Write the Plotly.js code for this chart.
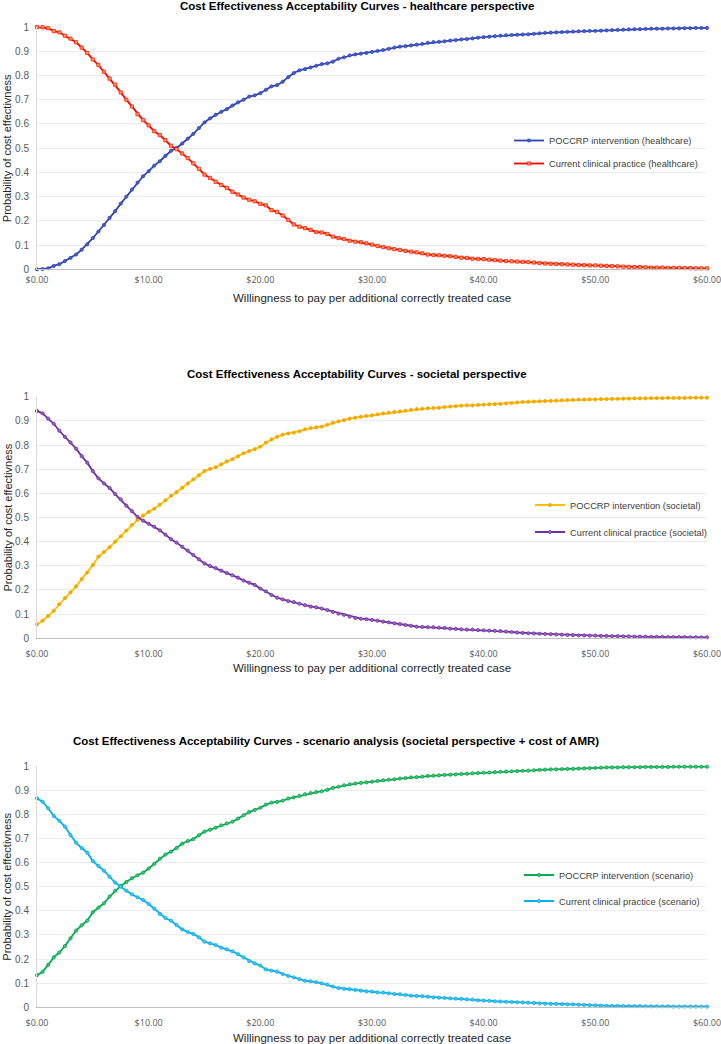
<!DOCTYPE html>
<html>
<head>
<meta charset="utf-8">
<script src="https://cdn.plot.ly/plotly-3.0.1.min.js"></script>
<style>html,body{margin:0;padding:0;background:#fff;}#chart{width:721px;height:1044px;}</style>
</head>
<body>
<div id="chart"></div>
<script>
// Willingness to pay ($ per additional correctly treated case)
const wtp = [0,0.5,1,1.5,2,2.5,3,3.5,4,4.5,5,5.5,6,6.5,7,7.5,8,8.5,9,9.5,10,10.5,11,11.5,12,12.5,13,13.5,14,14.5,15,15.5,16,16.5,17,17.5,18,18.5,19,19.5,20,
20.5,21,21.5,22,22.5,23,23.5,24,24.5,25,25.5,26,26.5,27,27.5,28,28.5,29,29.5,30,30.5,31,31.5,32,32.5,33,33.5,34,34.5,35,35.5,36,36.5,37,37.5,38,38.5,39,39.5,
40,40.5,41,41.5,42,42.5,43,43.5,44,44.5,45,45.5,46,46.5,47,47.5,48,48.5,49,49.5,50,50.5,51,51.5,52,52.5,53,53.5,54,54.5,55,55.5,56,56.5,57,57.5,58,58.5,59,59.5,60];

// Healthcare perspective
const hcIntervention = [0.000,0.001,0.004,0.014,0.021,0.034,0.047,0.061,0.081,0.103,0.129,0.156,0.183,0.212,0.240,0.271,0.300,0.329,0.358,0.384,0.405,0.428,0.446,0.468,0.489,0.501,0.519,0.539,0.559,0.583,0.606,0.623,0.638,0.650,0.661,0.676,0.689,0.700,0.713,0.718,0.727,
0.741,0.755,0.760,0.774,0.793,0.810,0.821,0.826,0.833,0.840,0.847,0.850,0.857,0.869,0.875,0.883,0.887,0.890,0.893,0.897,0.901,0.905,0.910,0.915,0.919,0.921,0.924,0.927,0.930,0.935,0.938,0.939,0.941,0.944,0.946,0.949,0.950,0.953,0.956,
0.958,0.960,0.962,0.964,0.966,0.967,0.968,0.969,0.970,0.972,0.974,0.976,0.977,0.978,0.979,0.980,0.981,0.982,0.983,0.984,0.984,0.985,0.986,0.987,0.988,0.989,0.990,0.991,0.991,0.992,0.993,0.993,0.993,0.994,0.994,0.994,0.995,0.995,0.996,0.996,0.996];
const hcCurrent = [1.000,0.999,0.995,0.983,0.978,0.964,0.952,0.937,0.915,0.893,0.866,0.843,0.815,0.787,0.762,0.730,0.700,0.672,0.640,0.616,0.594,0.570,0.554,0.533,0.510,0.496,0.478,0.459,0.437,0.415,0.391,0.377,0.361,0.348,0.336,0.320,0.309,0.296,0.287,0.281,0.270,
0.264,0.244,0.237,0.222,0.204,0.185,0.176,0.170,0.163,0.154,0.152,0.146,0.135,0.129,0.125,0.118,0.114,0.112,0.107,0.102,0.096,0.092,0.087,0.083,0.080,0.076,0.073,0.070,0.066,0.061,0.059,0.058,0.056,0.054,0.051,0.048,0.047,0.044,0.043,
0.042,0.040,0.038,0.036,0.034,0.033,0.032,0.031,0.030,0.028,0.026,0.024,0.023,0.022,0.021,0.020,0.019,0.018,0.017,0.016,0.016,0.015,0.014,0.013,0.012,0.011,0.010,0.009,0.009,0.008,0.007,0.007,0.007,0.006,0.006,0.006,0.005,0.005,0.004,0.004,0.004];

// Societal perspective
const socIntervention = [0.058,0.073,0.092,0.114,0.141,0.166,0.190,0.215,0.245,0.272,0.303,0.338,0.357,0.377,0.400,0.422,0.446,0.469,0.490,0.508,0.523,0.536,0.553,0.571,0.590,0.605,0.623,0.641,0.658,0.675,0.692,0.701,0.708,0.720,0.732,0.741,0.753,0.766,0.775,0.783,0.793,
0.810,0.823,0.834,0.843,0.848,0.851,0.857,0.865,0.870,0.873,0.876,0.884,0.892,0.898,0.903,0.909,0.913,0.917,0.920,0.923,0.927,0.931,0.934,0.937,0.939,0.942,0.946,0.949,0.950,0.952,0.953,0.954,0.957,0.959,0.961,0.963,0.964,0.964,0.966,
0.967,0.968,0.969,0.970,0.972,0.974,0.976,0.978,0.979,0.980,0.981,0.982,0.983,0.984,0.985,0.986,0.987,0.988,0.988,0.989,0.989,0.990,0.990,0.991,0.991,0.992,0.992,0.993,0.993,0.993,0.994,0.994,0.994,0.995,0.995,0.995,0.995,0.996,0.996,0.996,0.996];
const socCurrent = [0.941,0.931,0.909,0.888,0.859,0.834,0.811,0.785,0.754,0.727,0.692,0.662,0.641,0.622,0.597,0.575,0.549,0.526,0.503,0.487,0.474,0.462,0.447,0.429,0.410,0.396,0.379,0.363,0.345,0.327,0.310,0.299,0.291,0.280,0.270,0.261,0.251,0.239,0.230,0.221,0.206,
0.194,0.179,0.168,0.161,0.154,0.150,0.143,0.137,0.131,0.128,0.123,0.117,0.109,0.102,0.097,0.090,0.084,0.081,0.079,0.076,0.073,0.069,0.066,0.062,0.059,0.055,0.052,0.048,0.047,0.046,0.046,0.044,0.043,0.040,0.039,0.037,0.036,0.036,0.034,
0.033,0.032,0.031,0.030,0.028,0.026,0.024,0.022,0.021,0.020,0.019,0.018,0.017,0.016,0.015,0.014,0.013,0.012,0.012,0.011,0.011,0.010,0.010,0.009,0.009,0.008,0.008,0.007,0.007,0.007,0.006,0.006,0.006,0.005,0.005,0.005,0.005,0.004,0.004,0.004,0.004];

// Scenario analysis (societal perspective + cost of AMR)
const scIntervention = [0.133,0.147,0.176,0.207,0.227,0.254,0.286,0.318,0.340,0.359,0.394,0.413,0.431,0.459,0.483,0.503,0.519,0.535,0.547,0.558,0.575,0.595,0.616,0.633,0.645,0.660,0.678,0.689,0.697,0.713,0.728,0.736,0.744,0.754,0.762,0.769,0.782,0.796,0.809,0.818,0.827,
0.840,0.848,0.851,0.856,0.865,0.870,0.876,0.883,0.888,0.892,0.895,0.901,0.909,0.914,0.920,0.924,0.927,0.930,0.932,0.935,0.938,0.941,0.943,0.945,0.948,0.950,0.953,0.954,0.956,0.959,0.960,0.961,0.963,0.964,0.965,0.967,0.968,0.970,0.971,
0.972,0.973,0.975,0.976,0.977,0.978,0.979,0.980,0.981,0.982,0.984,0.985,0.986,0.986,0.987,0.988,0.988,0.989,0.990,0.991,0.992,0.993,0.994,0.994,0.994,0.995,0.995,0.995,0.995,0.996,0.996,0.996,0.996,0.996,0.997,0.997,0.997,0.997,0.997,0.997,0.997];
const scCurrent = [0.866,0.852,0.825,0.793,0.773,0.749,0.714,0.682,0.660,0.641,0.606,0.586,0.566,0.541,0.517,0.500,0.483,0.468,0.456,0.445,0.428,0.409,0.387,0.370,0.359,0.341,0.323,0.312,0.304,0.290,0.272,0.265,0.258,0.247,0.240,0.232,0.220,0.207,0.192,0.182,0.173,
0.157,0.152,0.148,0.138,0.130,0.124,0.117,0.110,0.108,0.104,0.099,0.094,0.086,0.080,0.077,0.075,0.072,0.069,0.066,0.065,0.062,0.061,0.058,0.055,0.054,0.051,0.048,0.047,0.046,0.044,0.041,0.040,0.039,0.037,0.036,0.035,0.033,0.032,0.029,
0.028,0.027,0.025,0.024,0.023,0.022,0.021,0.020,0.019,0.018,0.016,0.015,0.014,0.014,0.013,0.012,0.012,0.011,0.010,0.009,0.008,0.007,0.006,0.006,0.006,0.005,0.005,0.005,0.005,0.004,0.004,0.004,0.004,0.004,0.003,0.003,0.003,0.003,0.003,0.003,0.003];

const panelTitles = [
  'Cost Effectiveness Acceptability Curves - healthcare perspective',
  'Cost Effectiveness Acceptability Curves - societal perspective',
  'Cost Effectiveness Acceptability Curves - scenario analysis (societal perspective + cost of AMR)'
];
const seriesNames = [
  ['POCCRP intervention (healthcare)', 'Current clinical practice (healthcare)'],
  ['POCCRP intervention (societal)', 'Current clinical practice (societal)'],
  ['POCCRP intervention (scenario)', 'Current clinical practice (scenario)']
];
const xTitle = 'Willingness to pay per additional correctly treated case';
const yTitle = 'Probability of cost effectivness';

const H = 1044;
const py = px => 1 - px / H;         // pixel row -> paper y
const L = 37, PW = 670;
const pxX = px => (px - L) / PW;     // pixel col -> paper x

const FONT = 'Liberation Sans, Arial, sans-serif';

function line(x, y, name, color, mcolor, mline, symbol, msize, xa, ya, leg, grp) {
  return {
    type: 'scatter', mode: 'lines+markers', x: x, y: y, name: name,
    xaxis: xa, yaxis: ya, legend: leg, legendgroup: grp, cliponaxis: false,
    line: {color: color, width: 1.8},
    marker: {symbol: symbol, size: msize, color: mcolor, line: {color: mline, width: 0.8}},
    hoverinfo: 'skip'
  };
}

const data = [
  line(wtp, hcIntervention, seriesNames[0][0], '#2f45b5', '#4a5fc8', '#2f45b5', 'circle', 3.2, 'x', 'y', 'legend', 'a1'),
  line(wtp, hcCurrent, seriesNames[0][1], '#ff0000', '#ffa040', '#ff1a1a', 'square', 3.2, 'x', 'y', 'legend', 'a2'),
  line(wtp, socIntervention, seriesNames[1][0], '#ffc000', '#f0a800', '#f0a800', 'circle', 3.2, 'x2', 'y2', 'legend2', 'b1'),
  line(wtp, socCurrent, seriesNames[1][1], '#7030a0', '#9a68c4', '#7030a0', 'circle', 3.2, 'x2', 'y2', 'legend2', 'b2'),
  line(wtp, scIntervention, seriesNames[2][0], '#00b050', '#4cc47c', '#00a048', 'circle', 3.2, 'x3', 'y3', 'legend3', 'c1'),
  line(wtp, scCurrent, seriesNames[2][1], '#00b0f0', '#50c4f0', '#00a8e8', 'circle', 3.2, 'x3', 'y3', 'legend3', 'c2')
];

const xBase = {
  range: [0, 60], dtick: 10, tick0: 0, tickprefix: '$', tickformat: '.2f',
  showgrid: false, zeroline: false, showline: true, linecolor: '#bfbfbf', linewidth: 1,
  ticks: '', tickfont: {family: 'Open Sans, sans-serif', size: 9, color: '#595959'},
  ticklabeloverflow: 'allow',
  fixedrange: true, automargin: false
};
const yBase = {
  range: [0, 1], dtick: 0.1, tick0: 0, showgrid: true, gridcolor: '#ececec', gridwidth: 1,
  zeroline: false, showline: true, linecolor: '#d9d9d9', linewidth: 1,
  ticks: '', tickfont: {family: FONT, size: 10, color: '#595959'},
  ticklabeloverflow: 'allow',
  fixedrange: true, automargin: false, ticklabelstandoff: 5
};

const panels = [
  {top: 27, bot: 269.3, title: 6, xt: 297.5, tcx: 357},
  {top: 396.7, bot: 638.3, title: 374, xt: 668, tcx: 357},
  {top: 766, bot: 1007.3, title: 740.7, xt: 1037.5, tcx: 336}
];

const layout = {
  width: 721, height: 1044,
  margin: {l: L, r: 14, t: 0, b: 0, pad: 0},
  paper_bgcolor: '#ffffff', plot_bgcolor: '#ffffff',
  font: {family: FONT, color: '#404040'},
  showlegend: true,
  xaxis: Object.assign({}, xBase, {domain: [0, 1], anchor: 'y', ticklabelstandoff: 2}),
  xaxis2: Object.assign({}, xBase, {domain: [0, 1], anchor: 'y2', ticklabelstandoff: 7}),
  xaxis3: Object.assign({}, xBase, {domain: [0, 1], anchor: 'y3', ticklabelstandoff: 7}),
  yaxis: Object.assign({}, yBase, {domain: [py(panels[0].bot), py(panels[0].top)], anchor: 'x'}),
  yaxis2: Object.assign({}, yBase, {domain: [py(panels[1].bot), py(panels[1].top)], anchor: 'x2'}),
  yaxis3: Object.assign({}, yBase, {domain: [py(panels[2].bot), py(panels[2].top)], anchor: 'x3'}),
  legend: {x: pxX(509), y: py(126), xanchor: 'left', yanchor: 'top', bgcolor: 'rgba(0,0,0,0)',
           font: {family: FONT, size: 9.3, color: '#404040'}, tracegroupgap: 4, itemclick: false},
  legend2: {x: pxX(530), y: py(490.5), xanchor: 'left', yanchor: 'top', bgcolor: 'rgba(0,0,0,0)',
           font: {family: FONT, size: 9.3, color: '#404040'}, tracegroupgap: 8, itemclick: false},
  legend3: {x: pxX(519), y: py(860.5), xanchor: 'left', yanchor: 'top', bgcolor: 'rgba(0,0,0,0)',
           font: {family: FONT, size: 9.3, color: '#404040'}, tracegroupgap: 7, itemclick: false},
  annotations: []
};

panels.forEach((p, i) => {
  layout.annotations.push({
    text: '<b>' + panelTitles[i] + '</b>', xref: 'paper', yref: 'paper',
    x: pxX(p.tcx), y: py(p.title), xanchor: 'center', yanchor: 'middle', showarrow: false,
    font: {family: FONT, size: 11.5, color: '#000000'}
  });
  layout.annotations.push({
    text: xTitle, xref: 'paper', yref: 'paper',
    x: 0.5, y: py(p.xt), xanchor: 'center', yanchor: 'middle', showarrow: false,
    font: {family: FONT, size: 11.5, color: '#262626'}
  });
  layout.annotations.push({
    text: yTitle, xref: 'paper', yref: 'paper', textangle: -90,
    x: pxX(7), y: py((p.top + p.bot) / 2), xanchor: 'center', yanchor: 'middle', showarrow: false,
    font: {family: FONT, size: 11, color: '#262626'}
  });
});

Plotly.newPlot('chart', data, layout, {displayModeBar: false, staticPlot: true});
</script>
</body>
</html>
